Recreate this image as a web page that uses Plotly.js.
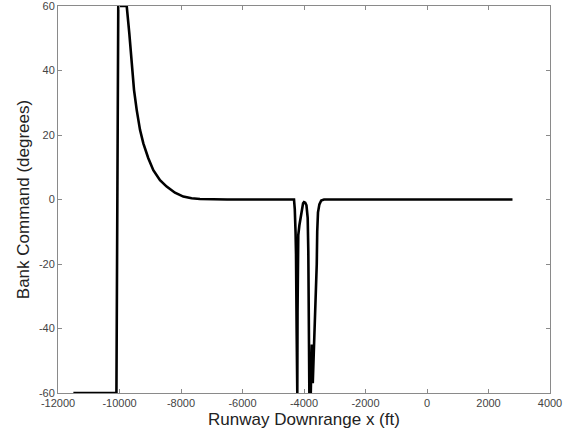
<!DOCTYPE html>
<html>
<head>
<meta charset="utf-8">
<script src="https://cdn.plot.ly/plotly-3.0.1.min.js"></script>
<style>html,body{margin:0;padding:0;background:#fff;}#chart{width:571px;height:434px;}</style>
</head>
<body>
<div id="chart"></div>
<script>
// Runway downrange position (ft)
const downrangeFt = [
  -11500, -10100, -10040, -9766, -9681, -9603, -9528, -9441, -9333, -9225, -9063, -8900, -8683,
  -8466, -8196, -7925, -7655, -7382, -7000, -6500,
  -4325, -4300, -4275, -4260, -4240, -4232, -4218, -4210, -4205, -4186, -4150, -4107, -4065, -4030, -4000,
  -3960, -3920, -3895, -3880, -3860, -3840, -3826,
  -3780, -3745, -3715, -3690, -3655, -3610, -3585, -3570, -3545, -3500, -3440, -3350, 2780
];
// Bank command (degrees)
const bankDeg = [
  -60, -60, 60, 60, 51.5, 41.2, 34.0, 27.8, 21.6, 17.4, 12.8, 9.1, 6.0,
  4.0, 2.1, 0.9, 0.4, 0.15, 0.05, 0,
  0, -3, -10, -17, -40, -60, -60, -35, -17, -11, -8, -5.7, -2.5, -1.2, -0.8,
  -1, -1.8, -4, -5.7, -16, -37, -60,
  -60, -45, -57, -50, -42, -33, -20, -10, -4, -1.5, -0.3, 0, 0
];
const xTicks = [-12000, -10000, -8000, -6000, -4000, -2000, 0, 2000, 4000];
const yTicks = [-60, -40, -20, 0, 20, 40, 60];

const axisCommon = {
  showgrid: false, zeroline: false, showline: true, linecolor: '#8a8a8a', linewidth: 1,
  ticks: 'inside', ticklen: 4, tickcolor: '#8a8a8a', mirror: 'ticks',
  ticklabeloverflow: 'allow',
  tickfont: {family: 'Liberation Sans, Arial, sans-serif', size: 11, color: '#444'}
};

Plotly.newPlot('chart', [{
  x: downrangeFt, y: bankDeg, type: 'scatter', mode: 'lines',
  line: {color: '#000', width: 2.6, shape: 'linear'}, cliponaxis: true, hoverinfo: 'skip'
}], {
  width: 571, height: 434,
  margin: {l: 58, r: 21, t: 6, b: 41},
  paper_bgcolor: '#fff', plot_bgcolor: '#fff',
  showlegend: false,
  xaxis: Object.assign({}, axisCommon, {
    range: [-12000, 4000], tickvals: xTicks, ticktext: xTicks.map(String),
    title: {text: 'Runway Downrange x (ft)', standoff: 4,
      font: {family: 'Liberation Sans, Arial, sans-serif', size: 17, color: '#222'}}
  }),
  yaxis: Object.assign({}, axisCommon, {
    range: [-60, 60], tickvals: yTicks, ticktext: yTicks.map(String),
    title: {text: 'Bank Command (degrees)', standoff: 4,
      font: {family: 'Liberation Sans, Arial, sans-serif', size: 17, color: '#222'}}
  })
}, {displayModeBar: false, staticPlot: true});
</script>
</body>
</html>
